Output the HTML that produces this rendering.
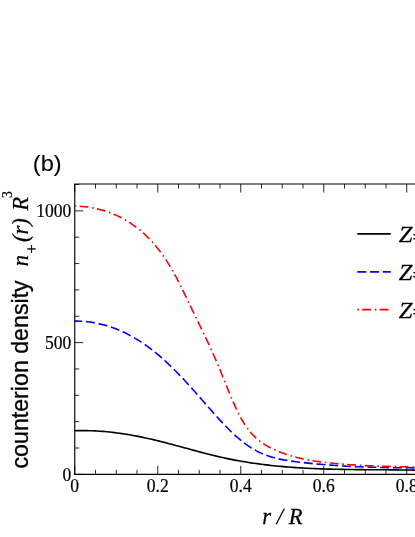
<!DOCTYPE html>
<html><head><meta charset="utf-8">
<style>
html,body{margin:0;padding:0;background:#fff;}
body{width:415px;height:537px;overflow:hidden;}
svg{display:block;}
text{filter:grayscale(1);}
text{fill:#000;}
.tk{font-family:"Liberation Serif",serif;font-size:17.6px;stroke:#000;stroke-width:0.2px;}
.it{font-family:"Liberation Serif",serif;font-style:italic;font-size:22.6px;stroke:#000;stroke-width:0.25px;}
.sa{font-family:"Liberation Sans",sans-serif;font-size:22.6px;}
</style></head><body>
<svg width="415" height="537" viewBox="0 0 415 537">
<rect width="415" height="537" fill="#fff"/>
<!-- frame -->
<path d="M74.75,475.1 V184.0 H420 M74.0,474.35 H420" fill="none" stroke="#000" stroke-width="1.15"/>
<path d="M74.75,474.35 v-8.5 M74.75,184.0 v8.5 M95.50,474.35 v-4.5 M95.50,184.0 v4.5 M116.25,474.35 v-4.5 M116.25,184.0 v4.5 M137.00,474.35 v-4.5 M137.00,184.0 v4.5 M157.75,474.35 v-8.5 M157.75,184.0 v8.5 M178.50,474.35 v-4.5 M178.50,184.0 v4.5 M199.25,474.35 v-4.5 M199.25,184.0 v4.5 M220.00,474.35 v-4.5 M220.00,184.0 v4.5 M240.75,474.35 v-8.5 M240.75,184.0 v8.5 M261.50,474.35 v-4.5 M261.50,184.0 v4.5 M282.25,474.35 v-4.5 M282.25,184.0 v4.5 M303.00,474.35 v-4.5 M303.00,184.0 v4.5 M323.75,474.35 v-8.5 M323.75,184.0 v8.5 M344.50,474.35 v-4.5 M344.50,184.0 v4.5 M365.25,474.35 v-4.5 M365.25,184.0 v4.5 M386.00,474.35 v-4.5 M386.00,184.0 v4.5 M406.75,474.35 v-8.5 M406.75,184.0 v8.5 M74.75,474.35 h8.5 M74.75,448.00 h4.5 M74.75,421.65 h4.5 M74.75,395.30 h4.5 M74.75,368.95 h4.5 M74.75,342.60 h8.5 M74.75,316.25 h4.5 M74.75,289.90 h4.5 M74.75,263.55 h4.5 M74.75,237.20 h4.5 M74.75,210.85 h8.5 M74.75,184.50 h4.5" fill="none" stroke="#000" stroke-width="0.85"/>
<!-- curves -->
<path d="M74.75,430.73 L77.23,430.66 L79.72,430.61 L82.20,430.59 L84.69,430.60 L87.17,430.64 L89.65,430.69 L92.14,430.78 L94.62,430.89 L97.10,431.02 L99.59,431.18 L102.07,431.36 L104.56,431.56 L107.04,431.79 L109.52,432.04 L112.01,432.31 L114.49,432.60 L116.97,432.92 L119.46,433.25 L121.94,433.61 L124.43,433.98 L126.91,434.38 L129.39,434.79 L131.88,435.22 L134.36,435.67 L136.85,436.14 L139.33,436.63 L141.81,437.14 L144.30,437.66 L146.78,438.20 L149.26,438.75 L151.75,439.32 L154.23,439.90 L156.72,440.50 L159.20,441.11 L161.68,441.74 L164.17,442.37 L166.65,443.01 L169.13,443.66 L171.62,444.32 L174.10,444.98 L176.59,445.65 L179.07,446.32 L181.55,447.00 L184.04,447.67 L186.52,448.35 L189.01,449.03 L191.49,449.70 L193.97,450.37 L196.46,451.04 L198.94,451.70 L201.42,452.36 L203.91,453.01 L206.39,453.65 L208.88,454.28 L211.36,454.91 L213.84,455.52 L216.33,456.11 L218.81,456.70 L221.29,457.27 L223.78,457.82 L226.26,458.36 L228.75,458.88 L231.23,459.38 L233.71,459.87 L236.20,460.34 L238.68,460.80 L241.17,461.24 L243.65,461.66 L246.13,462.07 L248.62,462.47 L251.10,462.85 L253.58,463.22 L256.07,463.57 L258.55,463.91 L261.04,464.24 L263.52,464.55 L266.00,464.85 L268.49,465.14 L270.97,465.42 L273.46,465.68 L275.94,465.94 L278.42,466.18 L280.91,466.41 L283.39,466.63 L285.87,466.84 L288.36,467.04 L290.84,467.23 L293.33,467.41 L295.81,467.58 L298.29,467.74 L300.78,467.90 L303.26,468.04 L305.74,468.18 L308.23,468.31 L310.71,468.43 L313.20,468.54 L315.68,468.65 L318.16,468.74 L320.65,468.84 L323.13,468.92 L325.62,469.00 L328.10,469.08 L330.58,469.14 L333.07,469.21 L335.55,469.27 L338.03,469.32 L340.52,469.37 L343.00,469.41 L345.49,469.46 L347.97,469.49 L350.45,469.53 L352.94,469.56 L355.42,469.59 L357.90,469.61 L360.39,469.64 L362.87,469.66 L365.36,469.68 L367.84,469.69 L370.32,469.71 L372.81,469.73 L375.29,469.74 L377.78,469.76 L380.26,469.78 L382.74,469.79 L385.23,469.81 L387.71,469.82 L390.19,469.84 L392.68,469.86 L395.16,469.88 L397.65,469.90 L400.13,469.93 L402.61,469.96 L405.10,469.99 L407.58,470.02 L410.06,470.05 L412.55,470.09 L415.03,470.14 L417.52,470.18 L420.00,470.24" fill="none" stroke="#000" stroke-width="1.6"/>
<path d="M74.75,321.10 L77.23,321.11 L79.72,321.19 L82.20,321.32 L84.69,321.50 L87.17,321.75 L89.65,322.05 L92.14,322.41 L94.62,322.83 L97.10,323.31 L99.59,323.85 L102.07,324.45 L104.56,325.11 L107.04,325.83 L109.52,326.61 L112.01,327.45 L114.49,328.35 L116.97,329.32 L119.46,330.35 L121.94,331.44 L124.43,332.60 L126.91,333.82 L129.39,335.11 L131.88,336.46 L134.36,337.87 L136.85,339.35 L139.33,340.90 L141.81,342.51 L144.30,344.19 L146.78,345.94 L149.26,347.75 L151.75,349.63 L154.23,351.58 L156.72,353.60 L159.20,355.69 L161.68,357.84 L164.17,360.06 L166.65,362.35 L169.13,364.69 L171.62,367.09 L174.10,369.54 L176.59,372.04 L179.07,374.59 L181.55,377.18 L184.04,379.82 L186.52,382.50 L189.01,385.21 L191.49,387.96 L193.97,390.74 L196.46,393.54 L198.94,396.37 L201.42,399.22 L203.91,402.07 L206.39,404.92 L208.88,407.76 L211.36,410.59 L213.84,413.40 L216.33,416.17 L218.81,418.90 L221.29,421.59 L223.78,424.23 L226.26,426.80 L228.75,429.30 L231.23,431.73 L233.71,434.07 L236.20,436.33 L238.68,438.49 L241.17,440.56 L243.65,442.52 L246.13,444.37 L248.62,446.11 L251.10,447.74 L253.58,449.25 L256.07,450.65 L258.55,451.93 L261.04,453.12 L263.52,454.19 L266.00,455.18 L268.49,456.07 L270.97,456.87 L273.46,457.60 L275.94,458.26 L278.42,458.86 L280.91,459.39 L283.39,459.87 L285.87,460.31 L288.36,460.71 L290.84,461.07 L293.33,461.41 L295.81,461.72 L298.29,462.02 L300.78,462.31 L303.26,462.60 L305.74,462.87 L308.23,463.13 L310.71,463.39 L313.20,463.63 L315.68,463.87 L318.16,464.10 L320.65,464.32 L323.13,464.53 L325.62,464.73 L328.10,464.92 L330.58,465.11 L333.07,465.29 L335.55,465.46 L338.03,465.63 L340.52,465.78 L343.00,465.93 L345.49,466.08 L347.97,466.21 L350.45,466.34 L352.94,466.47 L355.42,466.58 L357.90,466.69 L360.39,466.80 L362.87,466.90 L365.36,466.99 L367.84,467.07 L370.32,467.16 L372.81,467.23 L375.29,467.30 L377.78,467.37 L380.26,467.43 L382.74,467.48 L385.23,467.53 L387.71,467.58 L390.19,467.62 L392.68,467.66 L395.16,467.69 L397.65,467.72 L400.13,467.75 L402.61,467.77 L405.10,467.79 L407.58,467.81 L410.06,467.82 L412.55,467.83 L415.03,467.83 L417.52,467.84 L420.00,467.84" fill="none" stroke="#0000ff" stroke-width="1.6" stroke-dasharray="9 3.75" stroke-dashoffset="1.5"/>
<path d="M74.75,205.91 L77.23,206.05 L79.72,206.23 L82.20,206.46 L84.69,206.73 L87.17,207.05 L89.65,207.42 L92.14,207.85 L94.62,208.33 L97.10,208.87 L99.59,209.47 L102.07,210.14 L104.56,210.87 L107.04,211.67 L109.52,212.55 L112.01,213.50 L114.49,214.53 L116.97,215.63 L119.46,216.82 L121.94,218.10 L124.43,219.46 L126.91,220.91 L129.39,222.45 L131.88,224.10 L134.36,225.83 L136.85,227.68 L139.33,229.64 L141.81,231.71 L144.30,233.92 L146.78,236.26 L149.26,238.75 L151.75,241.39 L154.23,244.20 L156.72,247.17 L159.20,250.31 L161.68,253.65 L164.17,257.17 L166.65,260.90 L169.13,264.83 L171.62,268.99 L174.10,273.36 L176.59,277.97 L179.07,282.78 L181.55,287.75 L184.04,292.82 L186.52,297.96 L189.01,303.10 L191.49,308.23 L193.97,313.37 L196.46,318.50 L198.94,323.64 L201.42,328.79 L203.91,333.96 L206.39,339.19 L208.88,344.49 L211.36,349.91 L213.84,355.47 L216.33,361.18 L218.81,367.06 L221.29,373.05 L223.78,379.12 L226.26,385.23 L228.75,391.32 L231.23,397.34 L233.71,403.16 L236.20,408.69 L238.68,413.83 L241.17,418.50 L243.65,422.72 L246.13,426.51 L248.62,429.92 L251.10,432.97 L253.58,435.69 L256.07,438.11 L258.55,440.26 L261.04,442.18 L263.52,443.88 L266.00,445.41 L268.49,446.79 L270.97,448.06 L273.46,449.24 L275.94,450.35 L278.42,451.40 L280.91,452.39 L283.39,453.32 L285.87,454.20 L288.36,455.02 L290.84,455.79 L293.33,456.51 L295.81,457.18 L298.29,457.81 L300.78,458.40 L303.26,458.95 L305.74,459.46 L308.23,459.93 L310.71,460.37 L313.20,460.79 L315.68,461.17 L318.16,461.53 L320.65,461.86 L323.13,462.18 L325.62,462.47 L328.10,462.75 L330.58,463.02 L333.07,463.27 L335.55,463.51 L338.03,463.74 L340.52,463.95 L343.00,464.16 L345.49,464.36 L347.97,464.54 L350.45,464.72 L352.94,464.88 L355.42,465.04 L357.90,465.19 L360.39,465.33 L362.87,465.46 L365.36,465.58 L367.84,465.70 L370.32,465.81 L372.81,465.91 L375.29,466.00 L377.78,466.09 L380.26,466.18 L382.74,466.26 L385.23,466.33 L387.71,466.40 L390.19,466.47 L392.68,466.53 L395.16,466.59 L397.65,466.65 L400.13,466.70 L402.61,466.75 L405.10,466.80 L407.58,466.85 L410.06,466.90 L412.55,466.94 L415.03,466.99 L417.52,467.03 L420.00,467.08" fill="none" stroke="#ff0000" stroke-width="1.6" stroke-dasharray="1.6 3.3 8.8 3.8"/>
<!-- tick labels -->
<text class="tk" transform="translate(71.4,217.2) scale(1,1.07)" text-anchor="end">1000</text>
<text class="tk" transform="translate(71.4,348.7) scale(1,1.07)" text-anchor="end">500</text>
<text class="tk" transform="translate(71.4,481.0) scale(1,1.07)" text-anchor="end">0</text>
<text class="tk" transform="translate(74.75,491.50) scale(1,1.07)" text-anchor="middle">0</text>
<text class="tk" transform="translate(157.75,491.50) scale(1,1.07)" text-anchor="middle">0.2</text>
<text class="tk" transform="translate(240.75,491.50) scale(1,1.07)" text-anchor="middle">0.4</text>
<text class="tk" transform="translate(323.75,491.50) scale(1,1.07)" text-anchor="middle">0.6</text>
<text class="tk" transform="translate(406.75,491.50) scale(1,1.07)" text-anchor="middle">0.8</text>
<!-- panel label -->
<text x="32.8" y="171.3" textLength="28.8" lengthAdjust="spacingAndGlyphs" style="font-family:'Liberation Sans',sans-serif;font-size:21.5px;stroke:#000;stroke-width:0.1px;">(b)</text>
<!-- x label -->
<text class="it" transform="translate(262.3,523.8) scale(1,1.06)">r / R</text>
<!-- y label -->
<g transform="translate(27.5,468.5) rotate(-90) scale(1,1.06)">
<text x="0" y="0" style="font-family:'Liberation Sans',sans-serif;font-size:23.2px;stroke:#000;stroke-width:0.3px;">counterion density</text>
<text class="it" x="202.3" y="0">n</text>
<text x="215.3" y="8.9" style="font-family:'Liberation Serif',serif;font-size:15.5px;stroke:#000;stroke-width:0.3px;">+</text>
<text class="it" x="226.4" y="0">(r)</text>
<text class="it" x="257.8" y="0">R</text>
<text x="270.5" y="-14.6" style="font-family:'Liberation Serif',serif;font-size:13.8px;stroke:#000;stroke-width:0.2px;">3</text>
</g>
<!-- legend -->
<path d="M357.3,233.8 H390.8" stroke="#000" stroke-width="1.8" fill="none"/>
<path d="M357.3,271.8 H390.8" stroke="#0000ff" stroke-width="1.8" fill="none" stroke-dasharray="9 3.75"/>
<path d="M357.3,309.6 H390.8" stroke="#ff0000" stroke-width="1.8" fill="none" stroke-dasharray="1.6 3.3 8.8 3.8"/>
<text class="it" transform="translate(398.7,241.8) scale(1.09,1.06)">Z</text><text class="it" transform="translate(411.0,243.6) scale(1.0,0.9)">=10</text>
<text class="it" transform="translate(398.7,279.7) scale(1.09,1.06)">Z</text><text class="it" transform="translate(411.0,281.5) scale(1.0,0.9)">=10</text>
<text class="it" transform="translate(398.7,317.5) scale(1.09,1.06)">Z</text><text class="it" transform="translate(411.0,319.3) scale(1.0,0.9)">=10</text>
</svg>
</body></html>
